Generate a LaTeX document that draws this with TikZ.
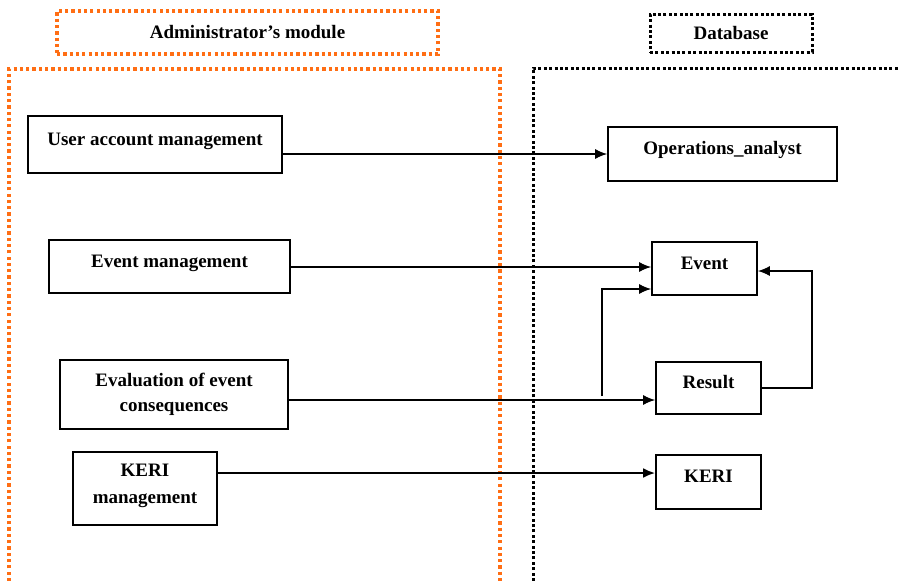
\documentclass[tikz,border=0pt]{standalone}
\usepackage{fontspec}
\setmainfont{Liberation Serif}
\usetikzlibrary{arrows.meta}
\definecolor{adminorange}{RGB}{255,110,20}
\begin{document}
\begin{tikzpicture}[x=1pt, y=-1pt,
      every node/.style={font=\fontsize{19}{25}\selectfont\bfseries},
      box/.style={draw, line width=1.6pt, align=center},
      onebox/.style={box, text height=13pt, text depth=12pt},
      orangedots/.style={draw=adminorange, line width=3.2pt, dash pattern=on 3.2pt off 3.1pt},
      blackdots/.style={draw=black, line width=3pt, dash pattern=on 3pt off 2.4pt},
      arr/.style={line width=1.6pt, -{Latex[length=12pt, width=10pt]}}]
      \useasboundingbox (0,0) rectangle (898,581);
      % module frames
      \node (adminhead) [orangedots, minimum width=381pt, minimum height=43pt] at (247.5,32.5) {Administrator’s module};
      \node (dbhead) [blackdots, minimum width=162pt, minimum height=38pt] at (731,33) {Database};
      \draw [orangedots] (9,581) -- (9,69) -- (500,69) -- (500,581);
      \draw [blackdots] (533,581) -- (533,68) -- (898,68);
      % administrator side
      \node (uam) [onebox, minimum width=254pt, minimum height=57pt] at (155,144.5) {User account management};
      \node (evm) [onebox, minimum width=241pt, minimum height=53pt] at (169.5,266.5) {Event management};
      \node (eval) [box, minimum width=228pt, minimum height=69pt] at (174,394.5) {Evaluation of event\\consequences};
      \node (kerim) [box, minimum width=144pt, minimum height=73pt, text depth=9pt] at (145,488.5) {KERI\\[2pt]management};
      % database side
      \node (opan) [onebox, minimum width=229pt, minimum height=54pt] at (722.5,154) {Operations\_analyst};
      \node (event) [onebox, minimum width=105pt, minimum height=53pt] at (704.5,268.5) {Event};
      \node (result) [onebox, minimum width=105pt, minimum height=52pt] at (708.5,388) {Result};
      \node (keri) [onebox, minimum width=105pt, minimum height=54pt] at (708.5,482) {KERI};
      \coordinate (split) at (602,396);
      \draw [arr] (uam.east |- opan.west) -- (opan.west);
      \draw [arr] ([yshift=-0.5pt]evm.east) -- ([yshift=-0.5pt]evm.east -| event.west);
      \draw [arr] ([yshift=-5.5pt]eval.east) -- ([yshift=-5.5pt]eval.east -| result.west);
      \draw [arr] (split) |- ([yshift=-20.5pt]event.west);
      \draw [arr] (result.east) -- ++(50,0) |- ([yshift=-2.5pt]event.east);
      \draw [arr, line width=2.4pt] ([yshift=9pt]kerim.east |- keri.west) -- ([yshift=9pt]keri.west);
    \end{tikzpicture}
\end{document}
